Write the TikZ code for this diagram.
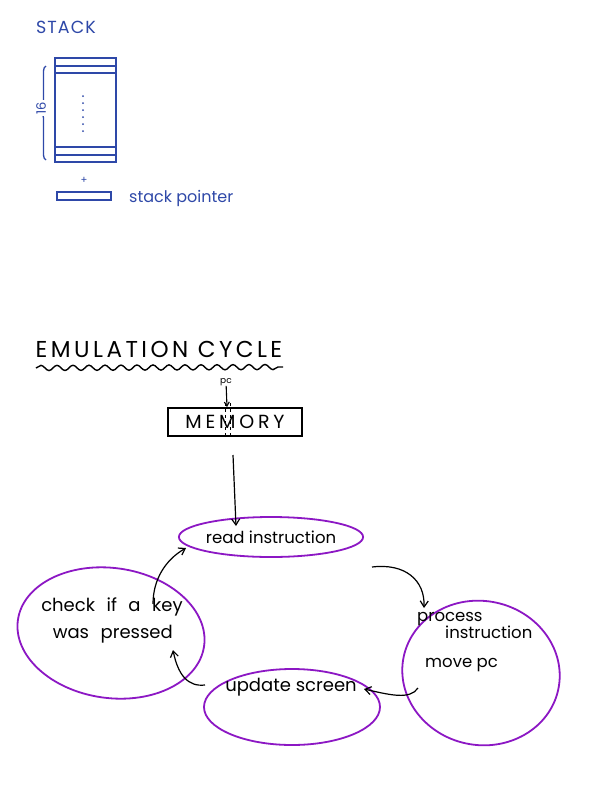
\documentclass[tikz,border=0pt]{standalone}
\usepackage{fontspec}
\setmainfont{Poppins}
\newfontfamily\widefont[LetterSpace=15]{Poppins}
\newfontfamily\memfont[LetterSpace=20]{Poppins}
\newfontfamily\stackfont[LetterSpace=6]{Poppins}
\newfontfamily\handfont[WordSpace=2.4]{Poppins}
\usetikzlibrary{shapes.geometric,arrows.meta,decorations.pathreplacing,decorations.pathmorphing}
\definecolor{stackblue}{HTML}{2E48A8}
\definecolor{cyclepurple}{HTML}{8C17C4}
\tikzset{
  bluetext/.style={text=stackblue, font=\fontsize{12}{14}\selectfont, inner sep=0pt},
  blueline/.style={draw=stackblue, line width=1.7pt},
  bubble/.style={ellipse, draw=cyclepurple, line width=1.8pt, inner sep=0pt, font=\fontsize{16.5}{20}\selectfont},
  bubbletext/.style={inner sep=0pt, font=\fontsize{16.5}{20}\selectfont},
  flow/.style={draw=black, line width=1.2pt, -{Straight Barb[length=6pt,width=8pt]}},
}
\begin{document}
\begin{tikzpicture}[x=1pt,y=-1pt]
\useasboundingbox[fill=white] (0,0) rectangle (612,803);

% ---------- stack ----------
\node[bluetext, font=\stackfont\fontsize{17.5}{19}\selectfont] (stacktitle) at (66,27) {STACK};
\node[blueline, minimum width=61pt, minimum height=104pt, inner sep=0pt] (stack) at (85.5,110) {};
\draw[blueline] (55,66) -- (116,66);
\draw[blueline] (55,73) -- (116,73);
\draw[blueline] (55,147) -- (116,147);
\draw[blueline] (55,155) -- (116,155);
\foreach \yy in {96,103,...,131} \fill[stackblue] (83,\yy) circle (1);
\draw[draw=stackblue, line width=1.3pt, decorate, decoration={brace, amplitude=5pt}] (46,160) -- (46,66);
\node[bluetext, rotate=90, fill=white, inner sep=1.5pt, font=\fontsize{13}{15}\selectfont] (sixteen) at (41,108) {16};
\node[bluetext, font=\fontsize{10}{11}\selectfont] (plus) at (84,180) {+};
\node[blueline, minimum width=54pt, minimum height=8pt, inner sep=0pt] (sp) at (84,196) {};
\node[bluetext, anchor=west, font=\fontsize{16}{18}\selectfont] (splabel) at (129,198) {stack pointer};

% ---------- emulation cycle ----------
\node[inner sep=0pt, font=\widefont\fontsize{23}{26}\selectfont] (title) at (159,349) {EMULATION CYCLE};
\coordinate (wavea) at (36,368);
\coordinate (waveb) at (283,367);
\draw[line width=1.4pt, decorate, decoration={snake, amplitude=2.6pt, segment length=16pt}] (wavea) -- (waveb);

\node[inner sep=0pt, font=\fontsize{9}{10}\selectfont] (pc) at (226,382) {pc};
\node[draw, line width=1.2pt, minimum width=134pt, minimum height=28pt, inner sep=0pt,
      font=\memfont\fontsize{19}{21}\selectfont] (memory) at (235,422) {MEMORY};
\coordinate (pcmark) at (227,407);
\draw[line width=1.1pt, -{Straight Barb[length=4pt,width=5pt]}] (pc) -- (pcmark);
\draw[line width=0.9pt, dash pattern=on 3pt off 3pt] (225,403) -- (225,437);
\draw[line width=0.9pt, dash pattern=on 3pt off 3pt] (230,403) -- (230,437);

% bubbles
\node[bubble, minimum width=176pt, minimum height=40pt] (read) at (271,537) {read instruction};
\node[bubble, minimum width=188pt, minimum height=130pt, rotate=-8] (check) at (111,633) {};
\node[bubbletext, align=left, font=\handfont\fontsize{18}{27}\selectfont] (checktext) at (112,620) {check if a key\\\ was pressed};
\node[bubble, minimum width=158pt, minimum height=144pt, rotate=-12] (process) at (481,673) {};
\node[bubbletext, align=left, anchor=north west] (processtext) at (417,612) {process\\[-3pt]\hspace*{28pt}instruction\\[9pt]\hspace*{8pt}move pc};
\node[bubble, minimum width=176pt, minimum height=76pt] (update) at (292,707) {};
\node[bubbletext, font=\fontsize{18}{20}\selectfont] (updatetext) at (291,687) {update screen};

% connectors
\coordinate (memout) at (233,455);
\draw[flow] (memout) -- (236,526);
\draw[flow] (372,567) .. controls (405,563) and (425,580) .. (424,608);
\draw[flow] (418,688) .. controls (410,700) and (390,695) .. (364,689);
\draw[flow] (205,685) .. controls (188,687) and (178,675) .. (173,650);
\draw[flow] (153,604) .. controls (153,580) and (165,560) .. (186,548);
\end{tikzpicture}
\end{document}
